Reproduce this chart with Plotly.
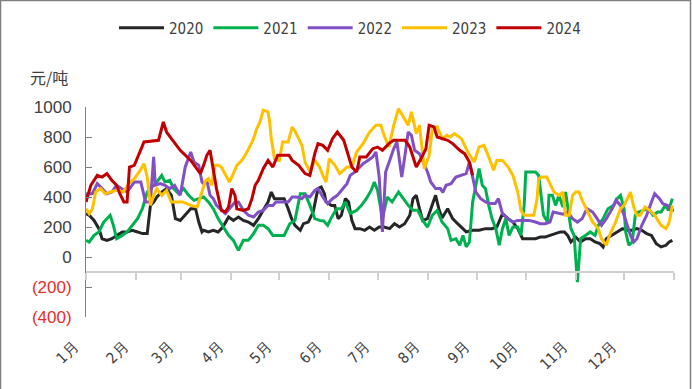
import plotly.graph_objects as go

# ---- data (day of year, value in 元/吨) ----
d2020 = [0,2,5,8,10,13,16,19,22.5,25.5,28.7,32,35,38,40,42,44,47,50,53,55.5,58.5,61.6,65,68,70,72,73,76,79,82,85,88.5,91.5,94.6,97.7,100.8,104,107,110,113,115,117,120,123,125.5,127.6,129.7,133,135,138,141,144,146,148,149,152.4,154.4,156.5,158.5,161,163,165,167,170,173,176,179,182,185,188.5,191.5,194.6,197.8,201,203,205,207,209,212,215,217,219,221,224.5,227.6,230.7,234,236,240,244,248,252,255,258.5,262,265,268,271,275,279,282,285,288,291.5,294.5,297,299,301,304,307,310,313,316,319,321,323,326.6,329.7,333,336,339,342,345,348,351,354,357,360,362,364]
v2020 = [289,278,244,189,122,111,122,144,167,167,178,167,156,156,344,367,400,433,456,411,256,244,278,322,322,233,167,178,167,178,167,200,267,244,267,244,233,211,256,311,367,433,389,389,389,322,256,211,178,222,233,300,456,467,422,367,344,344,256,278,389,367,244,189,189,178,200,178,200,200,189,222,200,222,278,389,411,322,244,256,344,411,322,260,322,256,222,189,167,178,178,189,189,200,289,256,233,189,122,122,122,133,133,144,156,167,167,144,100,133,100,122,122,100,89,67,122,144,167,189,178,178,189,178,156,144,89,67,78,100,111]

d2021 = [0,2,5,8,11,13,15,17,19,22.5,25.5,28.7,32,35,38,41,44,47,49,52,54.4,57.5,60.6,63.7,67,70,73,76,79,82,85,88.5,91.5,94.6,97.7,100.8,104,107,110,113,116,120,123,126.5,129.7,133,136,139,142,145,147.5,150,152,155.5,158.5,161,164,168,171,174,177,179,181,184,187,190,194,197,200,203,206,209,212,215,218,221,224.5,226.6,229.6,232,234,236,238,240,242,244,246,248,250,252,254.4,256.5,258.5,260.6,262.6,265,268,270,272,273,276,279,281,282.5,284,286.5,287.4,289.5,291.5,293.6,296,297.7,299,301,303,304,305,306,307,310,313,316,318,321,324,327.6,329.7,331.8,334,335,337,339,341,343,346,349,352,355,357,359.5,361.6,364]
v2021 = [111,100,144,167,233,256,278,211,122,144,167,211,256,322,433,467,500,544,500,511,456,422,456,411,378,389,400,367,322,256,200,144,111,44,111,111,156,211,211,189,144,144,144,222,244,422,422,344,256,244,240,211,256,322,322,367,289,311,344,389,444,500,444,256,400,367,433,389,344,311,311,244,200,278,311,233,189,111,122,78,144,67,100,367,489,589,478,456,344,256,189,78,189,256,144,200,200,144,344,567,567,567,544,411,278,233,411,411,344,411,333,433,344,189,144,-33,-167,-33,122,144,167,144,211,256,322,344,389,411,322,167,78,100,278,300,311,322,278,300,300,344,311,389]

d2022 = [0,1,4,7,10,13,16,19,22,25.5,30,34,37,40,42,43,46,49,52,55,58.5,61.6,65,67,70,72,73,75,77,79,81,84,86.5,89,92.6,94.6,97.7,100.8,104,107,110,113,116,118,122,125.5,128,130.7,134,136,139,142,144,147,150,153,156,160,162,164,167,170,172,175,178,180,182,184,186,188.5,191,193,196,198,200,202,204,207,210,212,214,217,220,221.5,223.5,226.6,229.6,233,236,238,240,242,245,248,251,254,256,258.5,262,265,268,271,275,279,282,285,288,290,293.6,296,299,302,305,308,311,314.5,317.3,320,323,326.6,329,331.8,334,336,338,340,342,345,348,351,353,356,358,361,363,365]
v2022 = [367,422,422,489,456,422,433,478,456,433,500,500,367,367,667,478,489,478,456,478,411,600,700,633,611,500,489,511,411,389,344,311,289,322,367,367,311,278,267,300,311,344,344,367,367,367,400,400,389,411,400,444,456,400,356,389,411,467,489,544,567,600,622,644,667,700,533,167,567,644,722,767,533,678,833,811,711,689,611,567,500,456,456,430,478,489,533,544,556,633,522,433,389,367,356,356,389,289,256,233,244,244,244,233,222,222,233,300,289,285,300,256,233,256,322,300,256,211,256,322,378,344,278,211,144,100,122,211,278,367,422,389,356,344,311,311]

d2023 = [0,2,4,6,9,12,15,19,23,26.5,30,33,36,38,40,42,44,47,50,53,56,60,65,69,72,74,76,78,80,82,84,86,89,91,93.6,96.7,98.8,102,104,106,108,110,113,114,115,117,120,122,125.5,128,130,132,134,136,139,142,145,147,149,151,154.5,157.5,162,165,168,172,176,180,183,185,188,191,194,197,200,202,205,207,210,213,215,218,221,224,226,228.7,233,237,241,244,247,250,253,255,258.5,262,265,268,270,272,275,278,280,281,283,286,288,290.5,293.6,296,297.7,300,302,304,306,308,311,314.5,318,320,323,325,328.7,331.8,334,336,338,340,342,344,347,350,353,355,357,360,362,364]
v2023 = [322,289,322,433,456,422,433,444,433,489,522,567,622,533,344,411,456,411,444,367,367,367,344,333,433,505,522,478,611,611,600,556,500,544,611,644,678,744,789,856,900,978,967,900,789,656,644,767,767,867,833,789,744,633,567,644,600,544,500,656,611,556,600,600,700,756,833,878,878,811,733,878,989,933,878,967,822,878,589,678,856,867,789,811,800,822,789,700,633,733,744,667,578,644,644,600,544,433,311,278,278,278,389,522,533,533,489,433,411,433,278,278,411,433,433,378,311,233,189,122,78,144,233,322,344,389,433,333,278,278,333,311,278,244,211,189,233,344]

d2024 = [0,3,7,10,13,16,19,21,23.5,25.5,27,30,36,45,48,50,53,58.5,65,71,73,75,77,79,81,84,86.5,88.5,90.5,92.5,93.6,97.7,100.8,103,105,107,110,113,116,119,123,126,128,132,136,139,142,144,147,150,153,156,160,162,165,168,170,174,178,181,184,188,191,194,198,201,205,208,211,213,216,218,221,224.5,227.6,232,235,238,240]
v2024 = [367,478,544,533,556,511,478,422,367,367,600,611,767,778,900,833,789,711,644,556,611,678,711,589,456,311,300,333,456,411,322,311,322,389,478,511,589,644,600,678,678,678,644,611,556,544,689,756,744,711,789,833,778,700,600,567,667,667,722,733,711,756,778,778,778,733,600,656,722,878,867,800,790,778,756,711,689,633,544]

years = ["2020", "2021", "2022", "2023", "2024"]
days = [d2020, d2021, d2022, d2023, d2024]
values = [v2020, v2021, v2022, v2023, v2024]
colors = ["#262626", "#00b050", "#8050c4", "#ffc000", "#c00000"]

month_days = [0, 31, 59, 90, 120, 151, 181, 212, 243, 273, 304, 334]
month_labels = ["1月", "2月", "3月", "4月", "5月", "6月", "7月", "8月", "9月", "10月", "11月", "12月"]
year_end = 365

y_ticks = [-400, -200, 0, 200, 400, 600, 800, 1000]
y_text = ["<span style='color:#e0302a'>(400)</span>", "<span style='color:#e0302a'>(200)</span>",
          "0", "200", "400", "600", "800", "1000"]
y_min, y_max, x_axis_value = -400, 1000, -100

W, H = 692, 389
ML, MR, MT, MB = 86, 18, 107, 72
PW, PH = W - ML - MR, H - MT - MB

fig = go.Figure()
for name, dx, vy, c in zip(years, days, values, colors):
    fig.add_trace(go.Scatter(x=dx, y=vy, mode="lines", name=name,
                             line=dict(color=c, width=3)))
# empty trace so the label axis is drawn
fig.add_trace(go.Scatter(x=[None], y=[None], xaxis="x2", showlegend=False, hoverinfo="skip"))

narrow = "DejaVu Sans Condensed, Liberation Sans Narrow, Arial"
fig.update_layout(
    width=W, height=H,
    margin=dict(l=ML, r=MR, t=MT, b=MB),
    paper_bgcolor="white", plot_bgcolor="white",
    showlegend=True,
    legend=dict(orientation="h", x=(350 - ML) / PW, xanchor="center",
                y=1 + (MT - 28) / PH, yanchor="middle",
                font=dict(family=narrow, size=15, color="#404040"),
                itemwidth=45, bgcolor="rgba(0,0,0,0)"),
    xaxis=dict(range=[0, year_end], anchor="free",
               position=(x_axis_value - y_min) / (y_max - y_min),
               showline=True, linecolor="#d0d0d0", linewidth=1.5,
               ticks="outside", ticklen=7, tickcolor="#d0d0d0", tickwidth=1.5,
               tickvals=month_days + [year_end], showticklabels=False,
               showgrid=False, zeroline=False),
    xaxis2=dict(range=[0, year_end], overlaying="x", anchor="y", side="bottom",
                showline=False, ticks="", showgrid=False, zeroline=False,
                tickvals=month_days, ticktext=month_labels, tickangle=-45,
                tickfont=dict(family=narrow, size=15, color="#404040"),
                ticklabelstandoff=17, ticklabelshift=-12),
    yaxis=dict(range=[y_min, y_max], tickvals=y_ticks, ticktext=y_text,
               showline=True, linecolor="#808080", linewidth=1,
               ticks="inside", ticklen=6, tickcolor="#808080",
               showgrid=False, zeroline=False, ticklabelstandoff=10,
               tickfont=dict(family="Liberation Sans, Arial", size=17, color="#404040")),
    annotations=[dict(text="元/吨", xref="paper", yref="paper",
                      x=(49 - ML) / PW, y=1 + (MT - 77) / PH,
                      xanchor="center", yanchor="middle", showarrow=False,
                      font=dict(family="Noto Sans CJK SC", size=16, color="#404040"))],
    shapes=[dict(type="rect", xref="paper", yref="paper",
                 x0=(0.5 - ML) / PW, x1=(690.5 - ML) / PW,
                 y0=-(MB + 3) / PH, y1=1 + (MT - 0.5) / PH,
                 line=dict(color="#808080", width=1.5), fillcolor="rgba(0,0,0,0)")],
)

fig.write_html("out.html", config={"displayModeBar": False},
               post_script="document.body.style.margin='0';document.body.style.overflow='hidden';")
